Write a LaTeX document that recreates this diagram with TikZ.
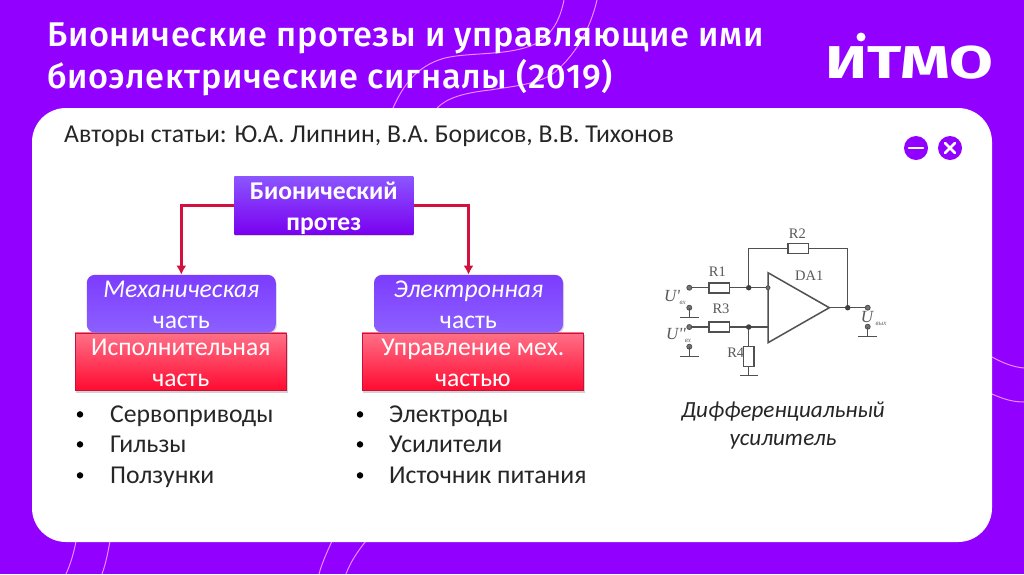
\documentclass[tikz,border=0pt]{standalone}
\usepackage{fontspec}
\setmainfont{Carlito}
\newfontfamily\titlefont{Fira Sans}[UprightFont=* Medium,LetterSpace=2]
\newfontfamily\logofont{Fira Sans}[UprightFont=* Bold,FakeStretch=1.38]
\newfontfamily\circuitfont{Liberation Serif}
\usetikzlibrary{shadows,arrows.meta}
\definecolor{bgpurple}{HTML}{9200FF}
\definecolor{wirecol}{HTML}{505050}
\definecolor{arrowred}{HTML}{D4103F}
\definecolor{decor}{HTML}{E88CFF}
\definecolor{roottop}{HTML}{8B55FF}
\definecolor{rootbot}{HTML}{7A00F0}
\definecolor{softtop}{HTML}{7C3CFF}
\definecolor{softbot}{HTML}{8C60FF}
\definecolor{redtop}{HTML}{FF7088}
\definecolor{redbot}{HTML}{FF0A30}
\definecolor{redline}{HTML}{C8103C}
\newcommand{\fixtop}{\rule{0pt}{23pt}}
\newcommand{\fixbot}{\rule[-4pt]{0pt}{4pt}}
\tikzset{
  titletext/.style={text=white,anchor=base west,inner sep=0pt,font=\titlefont\fontsize{34.3}{34.3}\selectfont},
  bodytext/.style={text=black!85,anchor=base west,inner sep=0pt,font=\fontsize{25.7}{30}\selectfont},
  boxtext/.style={text=white,align=center,inner sep=0pt,font=\fontsize{25.6}{30.7}\selectfont},
  rootbox/.style={boxtext,minimum width=179pt,minimum height=57.5pt,top color=roottop,bottom color=rootbot,drop shadow={shadow xshift=1pt,shadow yshift=-1.5pt,opacity=.3}},
  softbox/.style={boxtext,rounded corners=8pt,minimum width=189pt,minimum height=57pt,top color=softtop,bottom color=softbot,drop shadow={shadow xshift=1pt,shadow yshift=-1.5pt,opacity=.25}},
  redbox/.style={boxtext,draw=redline,line width=.7pt,minimum height=56.5pt,top color=redtop,bottom color=redbot,drop shadow={shadow xshift=1pt,shadow yshift=-2pt,opacity=.35}},
  wire/.style={draw=wirecol,line width=1.3pt},
  res/.style={draw=wirecol,line width=1.3pt,fill=white,inner sep=0pt},
  jun/.style={circle,fill=black!75,inner sep=0pt,minimum size=5.5pt},
  term/.style={circle,draw=wirecol,fill=black!55,line width=.8pt,inner sep=0pt,minimum size=5pt},
  clabel/.style={text=black!65,inner sep=0pt,font=\circuitfont\fontsize{14.5}{14.5}\selectfont},
  culabel/.style={text=black!65,inner sep=0pt,font=\circuitfont\itshape\fontsize{17}{17}\selectfont},
  csub/.style={text=black!60,inner sep=0pt,font=\circuitfont\itshape\fontsize{7}{7}\selectfont},
  flowarrow/.style={draw=arrowred,line width=2.5pt,-{Latex[length=9pt,width=10pt]}},
  decoline/.style={draw=decor,line width=1pt},
  icon/.style={circle,fill=bgpurple,inner sep=0pt,minimum size=24pt},
  iconbar/.style={draw=white,line width=2.6pt,line cap=round},
  bullet/.style={circle,fill=black,inner sep=0pt,minimum size=6.5pt}
}
\begin{document}
\begin{tikzpicture}[x=1pt,y=-1pt]
\useasboundingbox (0,0) rectangle (1024,574);
\fill[bgpurple] (0,0) rectangle (1024,574);
% decorative lines
\draw[decoline] (76,541) .. controls (74,552) and (71,563) .. (66,574);
\draw[decoline] (110,541) .. controls (108,552) and (106,563) .. (102,574);
\draw[decoline] (332,541) .. controls (327,552) and (322,563) .. (319,574);
\draw[decoline] (366,541) .. controls (357,552) and (350,563) .. (346,574);
\draw[decoline] (393,108) .. controls (402,88) and (415,66) .. (445,58) .. controls (470,52) and (510,56) .. (535,44) .. controls (552,35) and (560,20) .. (564,0);
\draw[decoline] (437,108) .. controls (447,98) and (463,93) .. (490,90) .. controls (515,86) and (540,84) .. (555,72) .. controls (575,55) and (590,30) .. (597,0);
\draw[decoline] (992,357) .. controls (1003,363) and (1013,367) .. (1024,368);
\draw[decoline] (992,394) .. controls (1003,399) and (1013,402) .. (1024,402);
% panel
\fill[white,rounded corners=34pt] (32,108) rectangle (992,542);
% title
\node[titletext] (t1) at (47,46) {Бионические протезы и управляющие ими};
\node[titletext] (t2) at (47,88) {биоэлектрические сигналы (2019)};
% logo
\node[text=white,inner sep=0pt,anchor=base west,font=\logofont\fontsize{46}{46}\selectfont] (logo) at (825,78) {ИТМО};
\node[circle,fill=white,inner sep=0pt,minimum size=9pt] (logodot) at (861,37) {};
% icons
\node[icon] (imin) at (916,148) {};
\draw[iconbar] (909,148) -- (923,148);
\node[icon] (icls) at (950,148) {};
\draw[iconbar] (945,143) -- (955,153);
\draw[iconbar] (955,143) -- (945,153);
% authors
\node[bodytext] (auth) at (64,142) {Авторы статьи: Ю.А. Липнин, В.А. Борисов, В.В. Тихонов};
% flow
\node[rootbox] (root) at (323.8,205.5) {\fixtop\textbf{Бионический}\\\textbf{протез}\fixbot};
\node[redbox,minimum width=211.5pt] (red1) at (180.8,361.7) {\fixtop Исполнительная\\часть\fixbot};
\node[redbox,minimum width=221.5pt] (red2) at (472.8,361.7) {\fixtop Управление мех.\\частью\fixbot};
\node[softbox] (mech) at (181.3,303.7) {\fixtop\textit{Механическая}\\часть\fixbot};
\node[softbox] (elec) at (468.5,303.7) {\fixtop\textit{Электронная}\\часть\fixbot};
\draw[flowarrow] (root.west) -| (mech.north);
\draw[flowarrow] (root.east) -| (elec.north);
% lists
\foreach \yy/\tx in {422.4/Сервоприводы,452.4/Гильзы,483.4/Ползунки}{
  \node[bullet] at (80,\yy-8) {};
  \node[bodytext] at (110,\yy) {\tx};
}
\foreach \yy/\tx in {422.4/Электроды,452.4/Усилители,483.4/Источник питания}{
  \node[bullet] at (360,\yy-8) {};
  \node[bodytext] at (389,\yy) {\tx};
}
\node[text=black!85,align=center,inner sep=0pt,font=\itshape\fontsize{23.1}{28}\selectfont] (cap) at (783,426) {Дифференциальный\\усилитель};
% circuit
\coordinate (in1) at (689.3,287.7);
\coordinate (in2) at (689.3,327);
\coordinate (plus) at (768,287.7);
\coordinate (minus) at (768,327);
\coordinate (j1) at (748.7,287.7);
\coordinate (j2) at (748.7,327);
\coordinate (j3) at (847.7,307.7);
\coordinate (tip) at (829.3,307.7);
\coordinate (out) at (867.7,307.7);
\draw[wire] (in1) -- (plus);
\draw[wire] (in2) -- (minus);
\draw[wire] (j1) |- (798.3,248.3) -| (j3);
\draw[wire] (tip) -- (out);
\draw[wire] (j2) -- (748.7,375.7);
\draw[wire] (740,375.7) -- (758.3,375.7);
\draw[wire,fill=white,line width=1.5pt] (768,272.7) -- (829.3,307.7) -- (768,342.7) -- cycle;
\node[res,minimum width=20.5pt,minimum height=10pt] (r1) at (719.3,288) {};
\node[res,minimum width=20.5pt,minimum height=10pt] (r3) at (719.3,327) {};
\node[res,minimum width=20.5pt,minimum height=10pt] (r2) at (798.3,248.3) {};
\node[res,minimum width=10.5pt,minimum height=20pt] (r4) at (748.7,356.7) {};
\node[jun] at (j1) {};
\node[jun] at (j2) {};
\node[jun] at (j3) {};
\node[term,minimum size=4pt] at (plus) {};
\node[term] at (in1) {};
\node[term] at (in2) {};
\node[term] at (out) {};
\foreach \xx/\yy/\gl/\gr in {689.3/307.7/680/699.3, 689.3/346.7/680/699.3, 867.7/326.7/858/877}{
  \node[term] at (\xx,\yy) {};
  \draw[wire] (\xx,\yy) -- (\xx,\yy+9.6);
  \draw[wire] (\gl,\yy+9.6) -- (\gr,\yy+9.6);
}
\node[clabel] at (797.3,234) {R2};
\node[clabel] at (717.3,271.7) {R1};
\node[clabel] at (721,308.7) {R3};
\node[clabel] at (735.7,353) {R4};
\node[clabel] at (809.3,276) {DA1};
\node[culabel] at (672,296) {U'};
\node[csub] at (682.7,303) {вх};
\node[culabel] at (676,334) {U''};
\node[csub] at (688,340.7) {вх};
\node[culabel] at (867,317) {U};
\node[csub] at (881,323.5) {вых};
\end{tikzpicture}
\end{document}
